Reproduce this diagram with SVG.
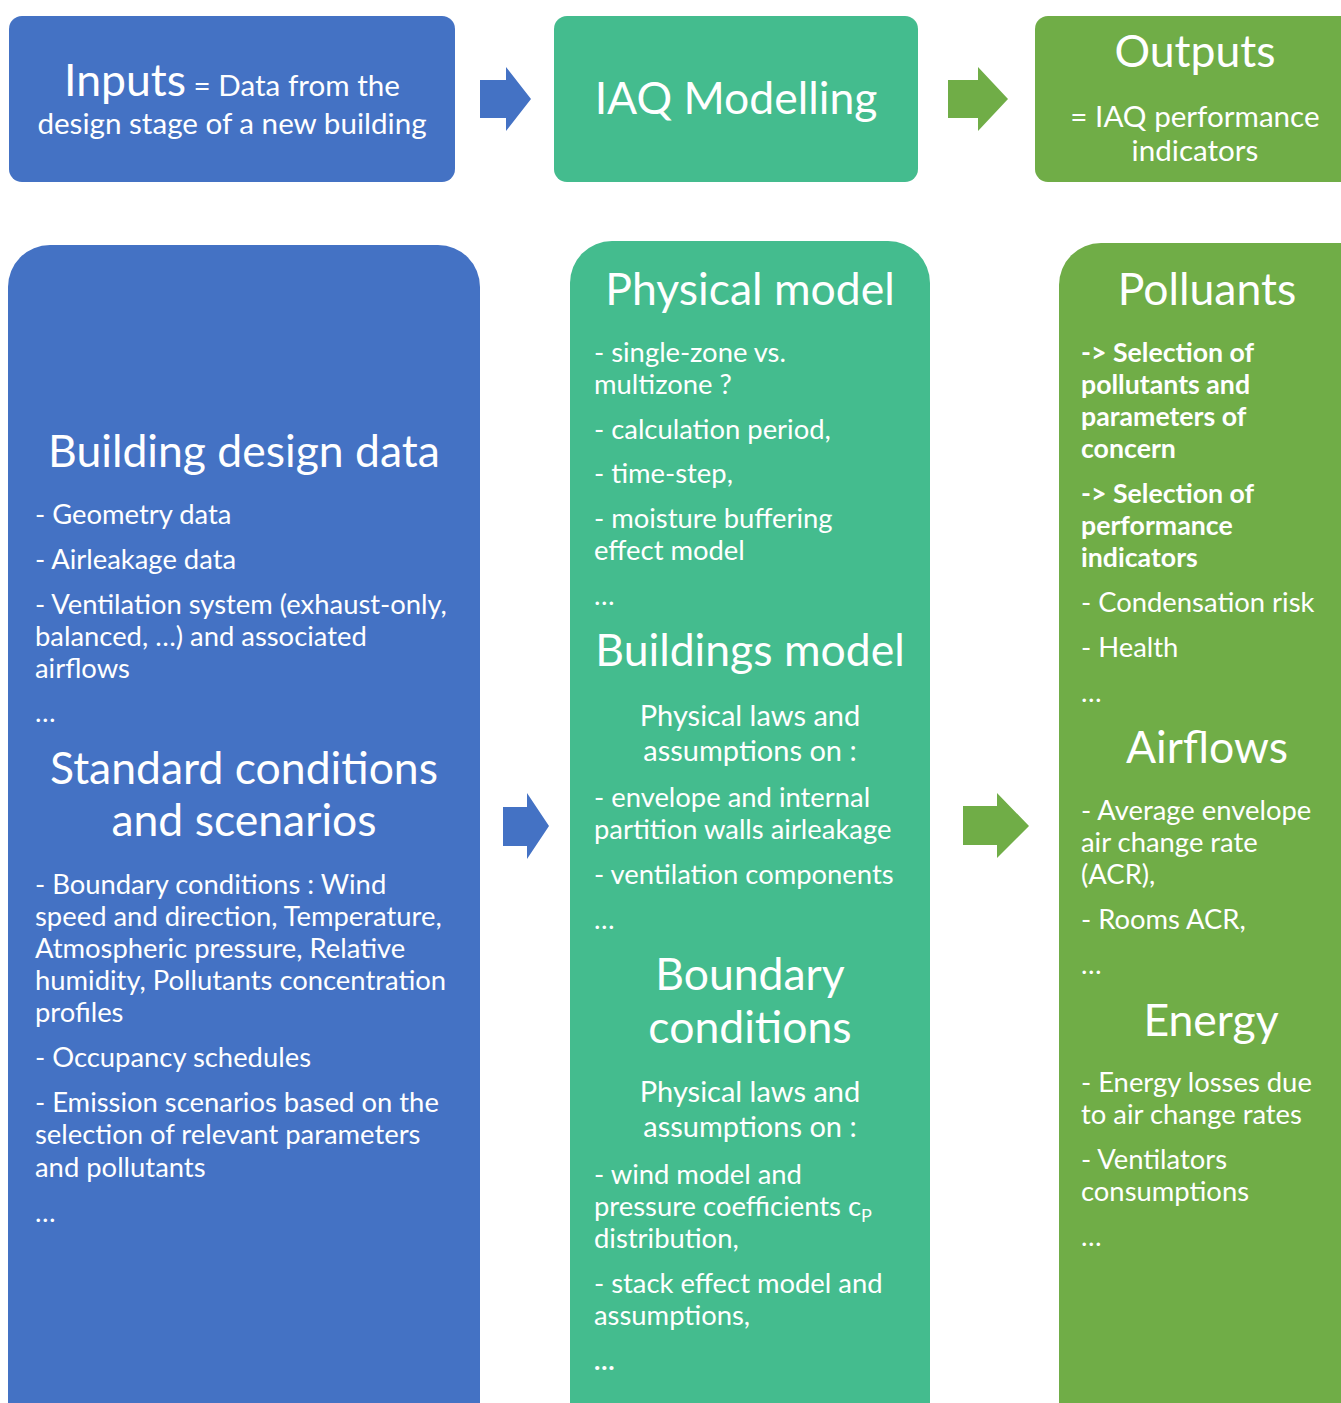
<svg xmlns="http://www.w3.org/2000/svg" width="1341" height="1403" viewBox="0 0 1341 1403">
<style>
text{font-family:Lato,"Open Sans","Liberation Sans",sans-serif;fill:#fff}
.h{font-size:44.5px;text-anchor:middle}
.b{font-size:27.4px}
.c{font-size:29px;text-anchor:middle}
.bd{font-size:26.7px;font-weight:bold}
.t{font-size:29.6px;text-anchor:middle}
.blue{fill:#4472C4}
.teal{fill:#44BC8E}
.green{fill:#70AD47}
</style>
<rect width="1341" height="1403" fill="#fff"/>
<g id="inputs">
<rect class="blue" x="9" y="16" width="446" height="166" rx="13"/>
<text x="232" y="96" text-anchor="middle"><tspan font-size="44.5">Inputs</tspan><tspan font-size="29.6"> = Data from the</tspan></text>
<text class="t" x="232" y="134">design stage of a new building</text>
</g>
<g id="iaq-modelling">
<rect class="teal" x="554" y="16" width="364" height="166" rx="13"/>
<text class="h" x="736" y="114">IAQ Modelling</text>
</g>
<g id="outputs">
<rect class="green" x="1035" y="16" width="330" height="166" rx="13"/>
<text class="h" x="1195" y="67">Outputs</text>
<text class="t" x="1195" y="127">= IAQ performance</text>
<text class="t" x="1195" y="161">indicators</text>
</g>
<g id="inputs-detail">
<rect class="blue" x="8" y="245" width="472" height="1200" rx="42"/>
<text class="h" x="244" y="467">Building design data</text>
<text class="b" x="35" y="524">- Geometry data</text>
<text class="b" x="35" y="569">- Airleakage data</text>
<text class="b" x="35" y="614">- Ventilation system (exhaust-only,</text>
<text class="b" x="35" y="646">balanced, …) and associated</text>
<text class="b" x="35" y="678">airflows</text>
<text class="b" x="35" y="722">…</text>
<text class="h" x="244" y="784">Standard conditions</text>
<text class="h" x="244" y="836">and scenarios</text>
<text class="b" x="35" y="894">- Boundary conditions : Wind</text>
<text class="b" x="35" y="926">speed and direction, Temperature,</text>
<text class="b" x="35" y="958">Atmospheric pressure, Relative</text>
<text class="b" x="35" y="990">humidity, Pollutants concentration</text>
<text class="b" x="35" y="1022">profiles</text>
<text class="b" x="35" y="1067">- Occupancy schedules</text>
<text class="b" x="35" y="1112">- Emission scenarios based on the</text>
<text class="b" x="35" y="1144">selection of relevant parameters</text>
<text class="b" x="35" y="1177">and pollutants</text>
<text class="b" x="35" y="1222">…</text>
</g>
<g id="modelling-detail">
<rect class="teal" x="570" y="241" width="360" height="1204" rx="42"/>
<text class="h" x="750" y="305">Physical model</text>
<text class="b" x="594" y="362">- single-zone vs.</text>
<text class="b" x="594" y="394">multizone ?</text>
<text class="b" x="594" y="439">- calculation period,</text>
<text class="b" x="594" y="483">- time-step,</text>
<text class="b" x="594" y="528">- moisture buffering</text>
<text class="b" x="594" y="560">effect model</text>
<text class="b" x="594" y="605">…</text>
<text class="h" x="750" y="666">Buildings model</text>
<text class="c" x="750" y="726">Physical laws and</text>
<text class="c" x="750" y="761">assumptions on :</text>
<text class="b" x="594" y="807">- envelope and internal</text>
<text class="b" x="594" y="839">partition walls airleakage</text>
<text class="b" x="594" y="884">- ventilation components</text>
<text class="b" x="594" y="929">…</text>
<text class="h" x="750" y="990">Boundary</text>
<text class="h" x="750" y="1043">conditions</text>
<text class="c" x="750" y="1102">Physical laws and</text>
<text class="c" x="750" y="1137">assumptions on :</text>
<text class="b" x="594" y="1184">- wind model and</text>
<text class="b" x="594" y="1216">pressure coefficients c<tspan font-size="18" dy="6">P</tspan></text>
<text class="b" x="594" y="1248">distribution,</text>
<text class="b" x="594" y="1293">- stack effect model and</text>
<text class="b" x="594" y="1325">assumptions,</text>
<text class="bd" x="594" y="1370">…</text>
</g>
<g id="outputs-detail">
<rect class="green" x="1059" y="243" width="330" height="1202" rx="42"/>
<text class="h" x="1207" y="305">Polluants</text>
<text class="bd" x="1081" y="362">-&gt; Selection of</text>
<text class="bd" x="1081" y="394">pollutants and</text>
<text class="bd" x="1081" y="426">parameters of</text>
<text class="bd" x="1081" y="458">concern</text>
<text class="bd" x="1081" y="503">-&gt; Selection of</text>
<text class="bd" x="1081" y="535">performance</text>
<text class="bd" x="1081" y="567">indicators</text>
<text class="b" x="1081" y="612">- Condensation risk</text>
<text class="b" x="1081" y="657">- Health</text>
<text class="b" x="1081" y="702">…</text>
<text class="h" x="1207" y="763">Airflows</text>
<text class="b" x="1081" y="820">- Average envelope</text>
<text class="b" x="1081" y="852">air change rate</text>
<text class="b" x="1081" y="884">(ACR),</text>
<text class="b" x="1081" y="929">- Rooms ACR,</text>
<text class="b" x="1081" y="974">…</text>
<text class="h" x="1211" y="1036">Energy</text>
<text class="b" x="1081" y="1092">- Energy losses due</text>
<text class="b" x="1081" y="1124">to air change rates</text>
<text class="b" x="1081" y="1169">- Ventilators</text>
<text class="b" x="1081" y="1201">consumptions</text>
<text class="b" x="1081" y="1246">…</text>
</g>
<g id="connectors">
<polygon class="blue" points="480,80 506,80 506,67 531,99 506,131 506,118 480,118"/>
<polygon class="green" points="948,80 978,80 978,67 1008,99 978,131 978,118 948,118"/>
<polygon class="blue" points="503,807 527,807 527,793 549,826 527,859 527,846 503,846"/>
<polygon class="green" points="963,806 997,806 997,793 1029,826 997,858 997,845 963,845"/>
</g>
</svg>
